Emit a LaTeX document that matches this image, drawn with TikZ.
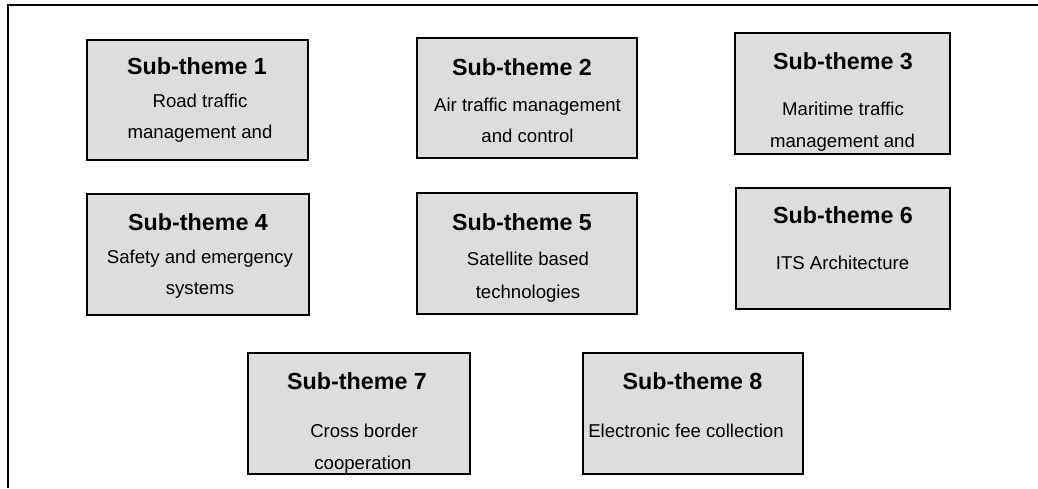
\documentclass[tikz,border=0pt]{standalone}
\usepackage{fontspec}
\setmainfont{Liberation Sans}
\definecolor{boxfill}{HTML}{DDDDDD}
\begin{document}
\begin{tikzpicture}[x=1pt,y=-1pt,
  themebox/.style={draw=black,line width=1.6pt,fill=boxfill,inner sep=0pt},
  ttl/.style={anchor=base,inner sep=0pt,font=\fontsize{23.3}{28}\selectfont\bfseries},
  body/.style={anchor=base,inner sep=0pt,font=\fontsize{18.6}{22}\selectfont}]
\useasboundingbox (0,0) rectangle (1038,488);
\fill[white] (0,0) rectangle (1038,488);
\coordinate (fbl) at (8,488);
\coordinate (ftl) at (8,5);
\coordinate (ftr) at (1038,5);
\draw[line width=1.8pt] (fbl) -- (ftl) -- (ftr);
% boxes
\node[themebox,minimum width=221pt,minimum height=120pt] (b1) at (197.5,100) {};
\node[themebox,minimum width=220pt,minimum height=120pt] (b2) at (527,98) {};
\node[themebox,minimum width=215pt,minimum height=121pt] (b3) at (842.5,93.5) {};
\node[themebox,minimum width=222pt,minimum height=121pt] (b4) at (198,254.5) {};
\node[themebox,minimum width=220pt,minimum height=121pt] (b5) at (527,253.5) {};
\node[themebox,minimum width=214pt,minimum height=121pt] (b6) at (843,248.5) {};
\node[themebox,minimum width=222pt,minimum height=121pt] (b7) at (359,413.5) {};
\node[themebox,minimum width=220pt,minimum height=121pt] (b8) at (693,413.5) {};
% texts
\node[ttl] (t1) at (197,74) {Sub-theme 1};
\node[body] (t1a) at (200,107) {Road traffic};
\node[body] (t1b) at (200,138) {management and};
\node[ttl] (t2) at (522,75) {Sub-theme 2};
\node[body] (t2a) at (527.5,111) {Air traffic management};
\node[body] (t2b) at (527.5,142) {and control};
\node[ttl] (t3) at (843,69) {Sub-theme 3};
\node[body] (t3a) at (843,115) {Maritime traffic};
\node[body] (t3b) at (842.5,147) {management and};
\node[ttl] (t4) at (198,230) {Sub-theme 4};
\node[body] (t4a) at (200,263) {Safety and emergency};
\node[body] (t4b) at (200,294) {systems};
\node[ttl] (t5) at (522,230) {Sub-theme 5};
\node[body] (t5a) at (528,265) {Satellite based};
\node[body] (t5b) at (528,298) {technologies};
\node[ttl] (t6) at (843,223) {Sub-theme 6};
\node[body] (t6a) at (842.5,269) {ITS Architecture};
\node[ttl] (t7) at (357,389) {Sub-theme 7};
\node[body] (t7a) at (364,437) {Cross border};
\node[body] (t7b) at (363,469) {cooperation};
\node[ttl] (t8) at (692.5,389) {Sub-theme 8};
\node[body] (t8a) at (686,437) {Electronic fee collection};
\end{tikzpicture}
\end{document}
